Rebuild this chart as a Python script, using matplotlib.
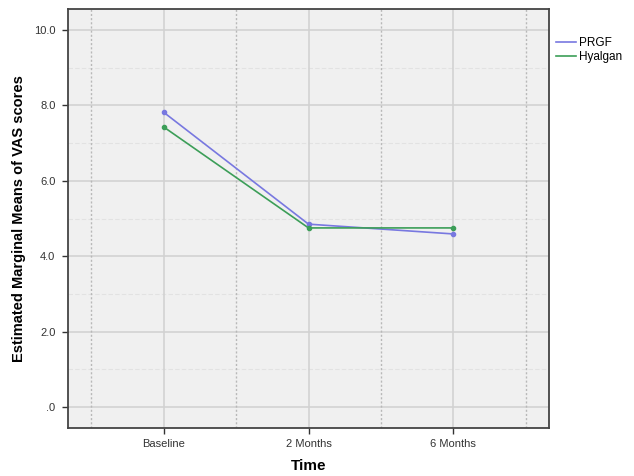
import matplotlib
matplotlib.use('Agg')
import matplotlib.pyplot as plt

times = ['Baseline', '2 Months', '6 Months']
prgf = [7.82, 4.85, 4.59]
hyalgan = [7.43, 4.75, 4.75]
yticks = [0, 2, 4, 6, 8, 10]
ytick_labels = ['.0', '2.0', '4.0', '6.0', '8.0', '10.0']

plt.rcParams['font.family'] = ['Liberation Sans', 'DejaVu Sans']

fig = plt.figure(figsize=(6.34, 4.76), dpi=100)
ax = fig.add_axes([68 / 634, 1 - 428 / 476, (549 - 68) / 634, (428 - 9) / 476])
ax.set_facecolor('#f0f0f0')

x = list(range(len(times)))
ax.set_xlim(-0.66, 2.66)
ax.set_ylim(-0.56, 10.56)

# grid: solid at ticks, dotted between categories, faint at odd values
for v in yticks:
    ax.axhline(v, color='#d2d2d2', lw=1.2, zorder=1)
for v in [1, 3, 5, 7, 9]:
    ax.axhline(v, color='#e2e2e2', lw=0.8, ls=(0, (4, 2)), zorder=1)
for i in x:
    ax.axvline(i, color='#d2d2d2', lw=1.2, zorder=1)
for v in [-0.5, 0.5, 1.5, 2.5]:
    ax.axvline(v, color='#b8b8b8', lw=1.0, ls=(0, (1.5, 1.5)), zorder=1)

ax.plot(x, prgf, color='#7878e0', lw=1.2, marker='o', ms=3, label='PRGF', zorder=3)
ax.plot(x, hyalgan, color='#3c9e58', lw=1.2, marker='o', ms=3, label='Hyalgan', zorder=3)

ax.set_xticks(x)
ax.set_xticklabels(times, fontsize=8, color='#333333')
ax.set_yticks(yticks)
ax.set_yticklabels(ytick_labels, fontsize=8, color='#333333')
ax.tick_params(axis='x', length=4, width=1, color='#333333', pad=4)
ax.tick_params(axis='y', length=4, width=1, color='#333333', pad=5)

for s in ax.spines.values():
    s.set_color('#444444')
    s.set_linewidth(1.3)

ax.set_xlabel('Time', fontsize=11, fontweight='bold', labelpad=7)
ax.set_ylabel('Estimated Marginal Means of VAS scores', fontsize=10.5, fontweight='bold', labelpad=6)

leg = ax.legend(loc='upper left', bbox_to_anchor=(1.0, 0.95), frameon=False,
                fontsize=8.5, handlelength=1.7, handletextpad=0.2, labelspacing=0.2,
                borderaxespad=0.2)
for h in leg.get_lines():
    h.set_marker('')

fig.savefig('out.png', dpi=100, facecolor='white')
